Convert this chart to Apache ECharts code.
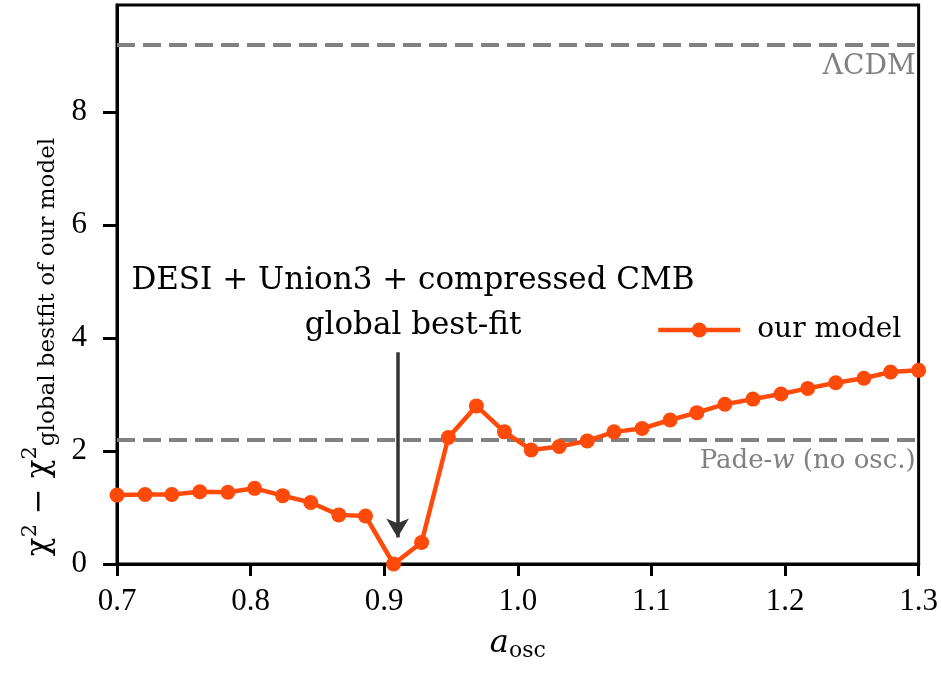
<!DOCTYPE html>
<html><head><meta charset="utf-8">
<script src="https://cdn.jsdelivr.net/npm/echarts@6/dist/echarts.min.js"></script>
<style>html,body{margin:0;padding:0;background:#fff}#c{width:941px;height:674px}</style>
</head><body><div id="c"></div>
<script>
const aOsc = [0.700,0.721,0.741,0.762,0.783,0.803,0.824,0.845,0.866,0.886,0.907,0.928,0.948,0.969,0.990,1.010,1.031,1.052,1.072,1.093,1.114,1.134,1.155,1.176,1.197,1.217,1.238,1.259,1.279,1.300];
const dChi2 = [1.22,1.23,1.23,1.28,1.27,1.34,1.21,1.09,0.87,0.85,0.00,0.38,2.24,2.80,2.34,2.02,2.08,2.18,2.34,2.40,2.55,2.68,2.83,2.92,3.01,3.11,3.21,3.29,3.40,3.43];
const lcdmLevel = 9.2;
const padeLevel = 2.2;
const bestFitA = 0.91;
const arrowFrom = 3.75, arrowTo = 0.47;

const SERIF = '"DejaVu Serif","Liberation Serif",serif';
const NUM = '"Liberation Serif","DejaVu Serif",serif';
const chart = echarts.init(document.getElementById('c'));
const pts = aOsc.map((a,i)=>[a,dChi2[i]]);
chart.setOption({
  animation:false,
  backgroundColor:'#fff',
  grid:{left:117,right:19,top:5,bottom:110,show:true,borderColor:'#000',borderWidth:3,backgroundColor:'transparent'},
  legend:{
    left:651, top:311, itemWidth:82, itemHeight:19, itemGap:10,
    lineStyle:{width:4.5},
    textStyle:{fontFamily:SERIF,fontSize:28,color:'#000',padding:[0,0,0,12]},
    data:['our model']
  },
  xAxis:{
    type:'value', min:0.7, max:1.3, interval:0.1,
    axisLine:{show:true,onZero:false,lineStyle:{color:'#000',width:3}},
    axisTick:{show:true,length:12,lineStyle:{color:'#000',width:3}},
    axisLabel:{margin:22,fontFamily:NUM,fontSize:31,color:'#000',formatter:v=>v.toFixed(1)},
    splitLine:{show:false},
    name:'{a|a}{s|osc}', nameLocation:'middle', nameGap:62,
    nameTextStyle:{rich:{a:{fontFamily:SERIF,fontStyle:'italic',fontSize:32,color:'#000'},s:{fontFamily:SERIF,fontSize:22,color:'#000',padding:[14,0,0,0]}}}
  },
  yAxis:{
    type:'value', min:0, max:9.9, interval:2,
    axisLine:{show:true,lineStyle:{color:'#000',width:3}},
    axisTick:{show:true,length:14,lineStyle:{color:'#000',width:3}},
    axisLabel:{margin:30,fontFamily:NUM,fontSize:31,color:'#000',showMaxLabel:false},
    splitLine:{show:false}
  },
  graphic:[
    {type:'text',x:413,y:281,style:{text:'DESI + Union3 + compressed CMB',textAlign:'center',textVerticalAlign:'middle',font:'31px '+SERIF,fill:'#000'}},
    {type:'text',x:413,y:326,style:{text:'global best-fit',textAlign:'center',textVerticalAlign:'middle',font:'31px '+SERIF,fill:'#000'}},
    {type:'text',x:40,y:347,rotation:Math.PI/2,style:{
      text:'{c|χ}{p|2}{c| − χ}{p|2}{b|global bestfit of our model}',
      textAlign:'center',textVerticalAlign:'middle',
      rich:{
        c:{fontFamily:SERIF,fontSize:31,fill:'#000',color:'#000'},
        p:{fontFamily:SERIF,fontSize:21,fill:'#000',color:'#000',padding:[0,0,18,0]},
        b:{fontFamily:SERIF,fontSize:23,fill:'#000',color:'#000',padding:[16,0,0,0]}
      }}}
  ],
  series:[
    {
      name:'our model', type:'line', data:pts, clip:true,
      symbol:'circle', symbolSize:15,
      lineStyle:{color:'#ff4a0a',width:4.5},
      itemStyle:{color:'#ff4a0a'},
      z:5,
      markLine:{
        silent:true, symbol:['none','none'],
        lineStyle:{color:'#808080',width:4,type:[18,8]},
        label:{show:true,position:'insideEndBottom',distance:[3,8],fontFamily:SERIF,fontSize:28,color:'#808080',
          rich:{n:{fontFamily:SERIF,fontSize:26,color:'#808080'},i:{fontFamily:SERIF,fontStyle:'italic',fontSize:26,color:'#808080'}}},
        data:[
          {yAxis:lcdmLevel,label:{formatter:'ΛCDM'}},
          {yAxis:padeLevel,label:{formatter:'{n|Pade-}{i|w}{n| (no osc.)}'}}
        ]
      }
    },
    {
      type:'line', data:[], silent:true,
      markLine:{
        silent:true, symbol:['none','arrow'], symbolSize:[17,19],
        lineStyle:{color:'#333',width:3.5,type:'solid'},
        label:{show:false},
        data:[[{coord:[bestFitA,arrowFrom]},{coord:[bestFitA,arrowTo]}]]
      }
    }
  ]
});
</script></body></html>
